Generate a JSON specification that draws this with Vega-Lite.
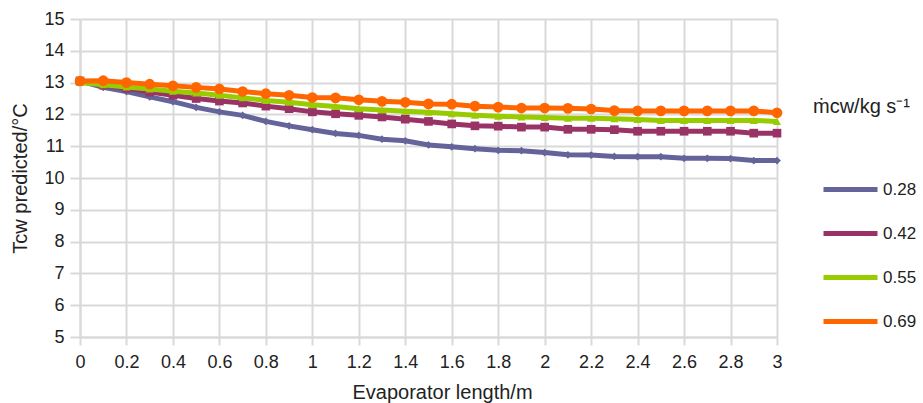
{
  "$schema": "https://vega.github.io/schema/vega-lite/v6.json",
  "autosize": {"type": "none"},
  "padding": {"left": 80, "top": 19, "right": 146, "bottom": 66},
  "width": 697,
  "height": 318,
  "background": "white",
  "config": {
    "font": "Liberation Sans",
    "view": {"stroke": null},
    "axis": {"labelFont": "Liberation Sans", "titleFont": "Liberation Sans", "labelColor": "#222", "titleColor": "#222", "titleFontWeight": "normal"}
  },
  "data": {"values": [
    {"x":0,"m":"0.28","t":13.05},{"x":0.1,"m":"0.28","t":12.85},{"x":0.2,"m":"0.28","t":12.72},{"x":0.3,"m":"0.28","t":12.55},{"x":0.4,"m":"0.28","t":12.4},{"x":0.5,"m":"0.28","t":12.22},{"x":0.6,"m":"0.28","t":12.08},{"x":0.7,"m":"0.28","t":11.97},{"x":0.8,"m":"0.28","t":11.78},{"x":0.9,"m":"0.28","t":11.64},{"x":1.0,"m":"0.28","t":11.52},{"x":1.1,"m":"0.28","t":11.4},{"x":1.2,"m":"0.28","t":11.34},{"x":1.3,"m":"0.28","t":11.22},{"x":1.4,"m":"0.28","t":11.17},{"x":1.5,"m":"0.28","t":11.04},{"x":1.6,"m":"0.28","t":10.98},{"x":1.7,"m":"0.28","t":10.92},{"x":1.8,"m":"0.28","t":10.87},{"x":1.9,"m":"0.28","t":10.86},{"x":2.0,"m":"0.28","t":10.8},{"x":2.1,"m":"0.28","t":10.73},{"x":2.2,"m":"0.28","t":10.72},{"x":2.3,"m":"0.28","t":10.68},{"x":2.4,"m":"0.28","t":10.67},{"x":2.5,"m":"0.28","t":10.67},{"x":2.6,"m":"0.28","t":10.62},{"x":2.7,"m":"0.28","t":10.62},{"x":2.8,"m":"0.28","t":10.61},{"x":2.9,"m":"0.28","t":10.55},{"x":3.0,"m":"0.28","t":10.55},
    {"x":0,"m":"0.42","t":13.05},{"x":0.1,"m":"0.42","t":12.92},{"x":0.2,"m":"0.42","t":12.82},{"x":0.3,"m":"0.42","t":12.7},{"x":0.4,"m":"0.42","t":12.6},{"x":0.5,"m":"0.42","t":12.5},{"x":0.6,"m":"0.42","t":12.42},{"x":0.7,"m":"0.42","t":12.36},{"x":0.8,"m":"0.42","t":12.26},{"x":0.9,"m":"0.42","t":12.18},{"x":1.0,"m":"0.42","t":12.08},{"x":1.1,"m":"0.42","t":12.02},{"x":1.2,"m":"0.42","t":11.97},{"x":1.3,"m":"0.42","t":11.92},{"x":1.4,"m":"0.42","t":11.85},{"x":1.5,"m":"0.42","t":11.78},{"x":1.6,"m":"0.42","t":11.7},{"x":1.7,"m":"0.42","t":11.64},{"x":1.8,"m":"0.42","t":11.63},{"x":1.9,"m":"0.42","t":11.6},{"x":2.0,"m":"0.42","t":11.6},{"x":2.1,"m":"0.42","t":11.53},{"x":2.2,"m":"0.42","t":11.53},{"x":2.3,"m":"0.42","t":11.52},{"x":2.4,"m":"0.42","t":11.47},{"x":2.5,"m":"0.42","t":11.47},{"x":2.6,"m":"0.42","t":11.47},{"x":2.7,"m":"0.42","t":11.47},{"x":2.8,"m":"0.42","t":11.47},{"x":2.9,"m":"0.42","t":11.41},{"x":3.0,"m":"0.42","t":11.41},
    {"x":0,"m":"0.55","t":13.0},{"x":0.1,"m":"0.55","t":12.93},{"x":0.2,"m":"0.55","t":12.86},{"x":0.3,"m":"0.55","t":12.8},{"x":0.4,"m":"0.55","t":12.73},{"x":0.5,"m":"0.55","t":12.67},{"x":0.6,"m":"0.55","t":12.6},{"x":0.7,"m":"0.55","t":12.52},{"x":0.8,"m":"0.55","t":12.44},{"x":0.9,"m":"0.55","t":12.38},{"x":1.0,"m":"0.55","t":12.3},{"x":1.1,"m":"0.55","t":12.25},{"x":1.2,"m":"0.55","t":12.18},{"x":1.3,"m":"0.55","t":12.14},{"x":1.4,"m":"0.55","t":12.1},{"x":1.5,"m":"0.55","t":12.07},{"x":1.6,"m":"0.55","t":12.02},{"x":1.7,"m":"0.55","t":11.97},{"x":1.8,"m":"0.55","t":11.94},{"x":1.9,"m":"0.55","t":11.92},{"x":2.0,"m":"0.55","t":11.9},{"x":2.1,"m":"0.55","t":11.88},{"x":2.2,"m":"0.55","t":11.88},{"x":2.3,"m":"0.55","t":11.86},{"x":2.4,"m":"0.55","t":11.84},{"x":2.5,"m":"0.55","t":11.81},{"x":2.6,"m":"0.55","t":11.81},{"x":2.7,"m":"0.55","t":11.81},{"x":2.8,"m":"0.55","t":11.81},{"x":2.9,"m":"0.55","t":11.81},{"x":3.0,"m":"0.55","t":11.78},
    {"x":0,"m":"0.69","t":13.05},{"x":0.1,"m":"0.69","t":13.06},{"x":0.2,"m":"0.69","t":13.0},{"x":0.3,"m":"0.69","t":12.95},{"x":0.4,"m":"0.69","t":12.9},{"x":0.5,"m":"0.69","t":12.85},{"x":0.6,"m":"0.69","t":12.8},{"x":0.7,"m":"0.69","t":12.72},{"x":0.8,"m":"0.69","t":12.65},{"x":0.9,"m":"0.69","t":12.6},{"x":1.0,"m":"0.69","t":12.53},{"x":1.1,"m":"0.69","t":12.52},{"x":1.2,"m":"0.69","t":12.46},{"x":1.3,"m":"0.69","t":12.41},{"x":1.4,"m":"0.69","t":12.38},{"x":1.5,"m":"0.69","t":12.33},{"x":1.6,"m":"0.69","t":12.32},{"x":1.7,"m":"0.69","t":12.26},{"x":1.8,"m":"0.69","t":12.23},{"x":1.9,"m":"0.69","t":12.2},{"x":2.0,"m":"0.69","t":12.2},{"x":2.1,"m":"0.69","t":12.19},{"x":2.2,"m":"0.69","t":12.17},{"x":2.3,"m":"0.69","t":12.12},{"x":2.4,"m":"0.69","t":12.11},{"x":2.5,"m":"0.69","t":12.11},{"x":2.6,"m":"0.69","t":12.11},{"x":2.7,"m":"0.69","t":12.11},{"x":2.8,"m":"0.69","t":12.11},{"x":2.9,"m":"0.69","t":12.11},{"x":3.0,"m":"0.69","t":12.05}
  ]},
  "encoding": {
    "x": {"field": "x", "type": "quantitative",
      "scale": {"domain": [0, 3], "nice": false, "zero": false},
      "axis": {"values": [0,0.2,0.4,0.6,0.8,1,1.2,1.4,1.6,1.8,2,2.2,2.4,2.6,2.8,3], "format": "~g",
        "title": "Evaporator length/m", "titleFontSize": 20, "titlePadding": 11, "titleX": 362,
        "labelFontSize": 18, "labelPadding": 8, "labelFlush": false,
        "grid": true, "gridColor": "#d9d9d9", "gridWidth": 2,
        "domainColor": "#d9d9d9", "domainWidth": 2, "tickColor": "#d9d9d9", "tickWidth": 2, "tickSize": 8}},
    "y": {"field": "t", "type": "quantitative",
      "scale": {"domain": [5, 15], "nice": false, "zero": false},
      "axis": {"values": [5,6,7,8,9,10,11,12,13,14,15],
        "title": "Tcw predicted/°C", "titleFontSize": 20, "titlePadding": 13,
        "labelFontSize": 18, "labelPadding": 6,
        "grid": true, "gridColor": "#d9d9d9", "gridWidth": 2,
        "domainColor": "#d9d9d9", "domainWidth": 2, "tickColor": "#d9d9d9", "tickWidth": 2, "tickSize": 10}},
    "color": {"field": "m", "type": "nominal",
      "scale": {"domain": ["0.28","0.42","0.55","0.69"], "range": ["#64649b","#993366","#99cc00","#ff6600"]},
      "legend": {"title": "ṁcw/kg s⁻¹", "orient": "none", "legendX": 733, "legendY": 78,
        "titleFontSize": 20, "titleFont": "Liberation Sans", "titleFontWeight": "normal", "titleColor": "#222", "titlePadding": 43,
        "labelFontSize": 17, "labelFont": "Liberation Sans", "labelColor": "#222", "labelOffset": 3,
        "symbolType": "stroke", "symbolStrokeWidth": 5, "symbolSize": 2916, "symbolOffset": 8, "rowPadding": 4}}
  },
  "layer": [
    {"transform": [{"filter": "datum.m == '0.28'"}],
     "mark": {"type": "line", "strokeWidth": 5, "point": {"shape": "diamond", "size": 60, "filled": true}}},
    {"transform": [{"filter": "datum.m == '0.42'"}],
     "mark": {"type": "line", "strokeWidth": 5, "point": {"shape": "square", "size": 75, "filled": true}}},
    {"transform": [{"filter": "datum.m == '0.55'"}],
     "mark": {"type": "line", "strokeWidth": 5, "point": {"shape": "triangle-up", "size": 65, "filled": true}}},
    {"transform": [{"filter": "datum.m == '0.69'"}],
     "mark": {"type": "line", "strokeWidth": 5, "point": {"shape": "circle", "size": 115, "filled": true}}}
  ]
}
